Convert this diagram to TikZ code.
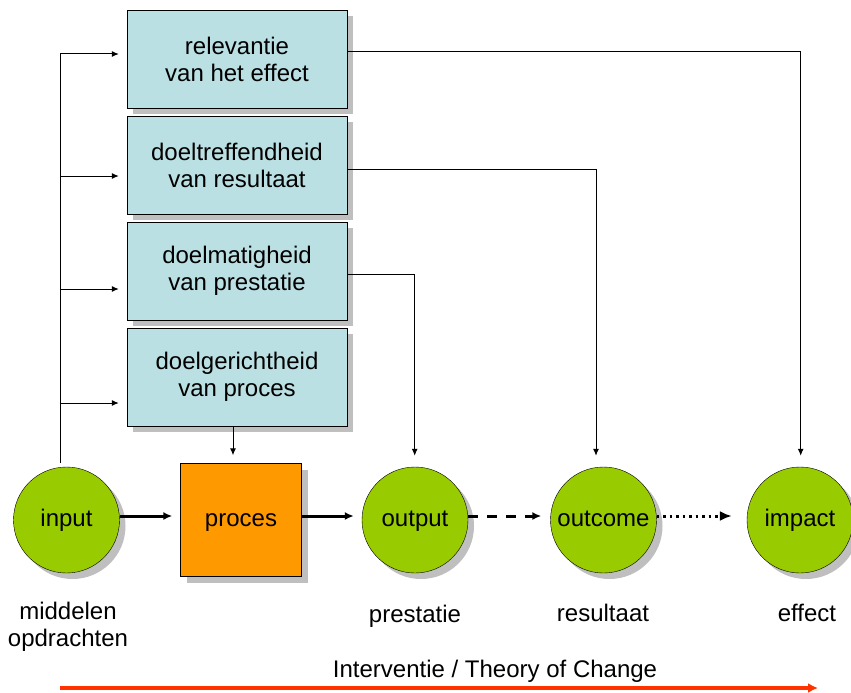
\documentclass[tikz,border=0pt]{standalone}
\usepackage{fontspec}
\setmainfont{Liberation Sans}
\usepackage{tikz}
\usetikzlibrary{arrows.meta, shadows, calc}
\definecolor{kleurBlok}{HTML}{BBE0E3}
\definecolor{kleurFase}{HTML}{99CC00}
\definecolor{kleurProces}{HTML}{FF9900}
\definecolor{kleurTijdlijn}{HTML}{FF3300}

\begin{document}
\begin{tikzpicture}[x=1pt, y=-1pt, font=\fontsize{24}{27}\selectfont, >=Latex,
        sch/.style={drop shadow={shadow xshift=6pt, shadow yshift=-6pt, fill=gray!50, opacity=1}},
        bl/.style={draw, fill=kleurBlok, sch, minimum width=220pt, minimum height=98pt,
            align=center, inner sep=0pt},
        fs/.style={circle, draw, fill=kleurFase, sch, minimum size=106pt, inner sep=0pt,
            text height=17pt, text depth=5pt},
        pl/.style={-{Latex[length=7pt, width=6pt]}, line width=1pt, shorten >=8pt},
        hp/.style={-{Latex[length=9pt, width=8pt]}, line width=3pt}]
        \useasboundingbox (0,0) rectangle (851,693);
        % criteria
        \node[bl] (rel) at (237,59) {relevantie\\van het effect};
        \node[bl] (dtr) at (237,165) {doeltreffendheid\\van resultaat};
        \node[bl] (dma) at (237,271) {doelmatigheid\\van prestatie};
        \node[bl] (dge) at (237,377) {doelgerichtheid\\van proces};
        % keten
        \node[fs] (inp) at (66.5,520) {input};
        \node[draw, fill=kleurProces, sch, minimum width=121pt, minimum height=113pt,
            text height=17pt, text depth=5pt] (proc) at (241,520) {proces};
        \node[fs] (outp) at (415,520) {output};
        \node[fs] (outc) at (603.5,520) {outcome};
        \node[fs] (imp) at (800,520) {impact};
        \node[align=center] (lin) at (68,627) {middelen\\opdrachten};
        \node (lout) at (415,616) {prestatie};
        \node (lres) at (603,613) {resultaat};
        \node (limp) at (807,613) {effect};
        \node (toc) at (495,671) {Interventie / Theory of Change};
        % verbindingen links
        \coordinate (sp) at (60,463);
        \coordinate (t1) at (60,54);
        \coordinate (t2) at (60,176);
        \coordinate (t3) at (60,289);
        \coordinate (t4) at (60,403);
        \draw[line width=1pt] (sp) -- (t1);
        \foreach \c/\b in {t1/rel, t2/dtr, t3/dma, t4/dge}
            \draw[pl] (\c) -- (\b.west |- \c);
        % verbindingen rechts
        \coordinate (h1) at (800.7,52);
        \coordinate (h2) at (596,169);
        \coordinate (h3) at (414.7,274);
        \draw[pl, shorten >=11pt] (rel.east |- h1) -- (h1) -- (h1 |- imp.north);
        \draw[pl, shorten >=11pt] (dtr.east |- h2) -- (h2) -- (h2 |- outc.north);
        \draw[pl, shorten >=11pt] (dma.east |- h3) -- (h3) -- (h3 |- outp.north);
        \draw[pl] ([xshift=-4pt]dge.south) -- ([xshift=-4pt]dge.south |- proc.north);
        % hoofdlijn
        \draw[hp, shorten >=8pt] ([yshift=4pt]inp.east) -- ([yshift=4pt]proc.west);
        \draw[hp, shorten >=8pt] ([yshift=4pt]proc.east) -- ([yshift=4pt]outp.west);
        \draw[hp, dash pattern=on 10pt off 9pt, shorten >=9pt] ([yshift=4pt]outp.east) -- ([yshift=4pt]outc.west);
        \draw[-{Latex[length=12pt, width=10pt]}, line width=3pt, dash pattern=on 2.5pt off 4pt, shorten >=15pt]
            ([yshift=4pt]outc.east) -- ([yshift=4pt]imp.west);
        % tijdlijn
        \coordinate (rs) at (60,688);
        \coordinate (re) at (818,688);
        \draw[-{Latex[length=10pt, width=10pt]}, line width=4pt, kleurTijdlijn] (rs) -- (re);
    \end{tikzpicture}
\end{document}
